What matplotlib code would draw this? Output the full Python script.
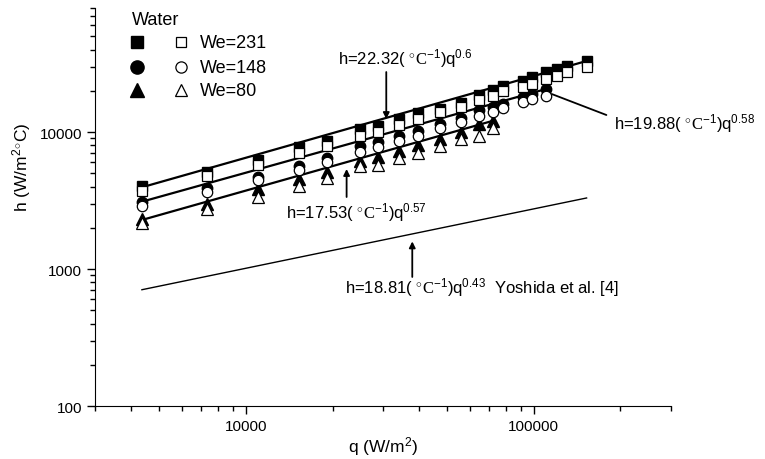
import matplotlib
matplotlib.use('agg')
import matplotlib.pyplot as plt
from matplotlib.ticker import FuncFormatter, NullFormatter

plt.rcParams['font.family'] = ['Liberation Sans', 'DejaVu Sans']
plt.rcParams['mathtext.fontset'] = 'custom'
plt.rcParams['mathtext.rm'] = 'Liberation Serif'
plt.rcParams['mathtext.sf'] = 'Liberation Sans'
plt.rcParams['mathtext.it'] = 'Liberation Sans:italic'

# heat flux (W/m2)
q = [4350, 7300, 11000, 15300, 19200, 24900, 28800, 34100, 39700, 47200,
     55700, 64700, 72300, 78300, 91500, 98300, 110300, 120100, 130800, 152700]

# We=231 (squares)
h231_f = [4055, 5080, 6245, 7730, 8640, 10520, 11120, 12440, 13700, 14720,
          16200, 18620, 20370, 21780, 23690, 25060, 27280, 28840, 30480, 33110]
h231_o = [3690, 4750, 5740, 7030, 7940, 9300, 10050, 11250, 12440, 13930,
          15300, 17220, 18400, 20020, 21180, 22390, 24380, 25760, 27280, 29650]
# We=148 (circles)
h148_f = [3100, 3880, 4720, 5680, 6430, 7870, 8410, 9400, 10220, 11440,
          12590, 14550, 15140, 16000, 17910, 18920, 20590]
h148_o = [2900, 3630, 4470, 5310, 6070, 7110, 7730, 8640, 9400, 10640,
          11770, 13150, 14070, 14890, 16480, 17400, 18220]
# We=80 (triangles)
h80_f = [2320, 2980, 3840, 4540, 5130, 6170, 6530, 7300, 8040, 8890,
         9950, 11440, 12090]
h80_o = [2170, 2740, 3340, 4020, 4590, 5620, 5740, 6430, 7030, 7940,
         8890, 9400, 10640]

# correlation lines (end points)
fit231_q, fit231_h = [4350, 152700], [3950, 33000]
fit148_q, fit148_h = [4350, 110300], [3100, 20590]
fit80_q, fit80_h = [4350, 72300], [2280, 12090]
yoshida_q, yoshida_h = [4350, 152700], [706, 3300]

fig = plt.figure(figsize=(7.65, 4.6), dpi=100)
ax = fig.add_axes([0.1248, 0.1152, 0.7523, 0.8646])

for fq, fh in [(fit231_q, fit231_h), (fit148_q, fit148_h), (fit80_q, fit80_h)]:
    ax.plot(fq, fh, color='black', lw=1.6, zorder=2)
ax.plot(yoshida_q, yoshida_h, color='black', lw=1.0, zorder=2)

n148 = len(h148_f)
n80 = len(h80_f)
ax.plot(q, h231_f, 's', ms=6.5, color='black', zorder=3)
ax.plot(q[:n148], h148_f, 'o', ms=7.5, color='black', zorder=3)
ax.plot(q[:n80], h80_f, '^', ms=8, color='black', zorder=3)
ax.plot(q, h231_o, 's', ms=6.5, mfc='white', mec='black', mew=0.9, zorder=4)
ax.plot(q[:n148], h148_o, 'o', ms=7.5, mfc='white', mec='black', mew=0.9, zorder=4)
ax.plot(q[:n80], h80_o, '^', ms=8, mfc='white', mec='black', mew=0.9, zorder=4)

ax.set_xscale('log')
ax.set_yscale('log')
ax.set_xlim(3000, 300000)
ax.set_ylim(100, 80000)

fmt = FuncFormatter(lambda v, p: f'{v:.0f}')
ax.xaxis.set_major_formatter(fmt)
ax.yaxis.set_major_formatter(fmt)
ax.xaxis.set_minor_formatter(NullFormatter())
ax.yaxis.set_minor_formatter(NullFormatter())
ax.tick_params(which='major', direction='out', length=6, width=1, labelsize=11)
ax.tick_params(which='minor', direction='out', length=3.5, width=1)
for s in ['top', 'right']:
    ax.spines[s].set_visible(False)

ax.set_xlabel(r'q (W/m$^{\mathsf{2}}$)', fontsize=12.5, labelpad=1)
ax.set_ylabel(r'h (W/m$^{\mathsf{2}}$$^{\circ}$C)', fontsize=12.5)
ax.yaxis.set_label_coords(-0.108, 0.603)

# legend
ax.text(0.0634, 0.972, 'Water', transform=ax.transAxes, fontsize=13, va='center')
rows = [('s', 8.5, 'We=231', 0.9146), ('o', 9.5, 'We=148', 0.8518),
        ('^', 10.5, 'We=80', 0.794)]
for m, ms, lab, yy in rows:
    ax.plot([0.0721], [yy], m, ms=ms, color='black', transform=ax.transAxes, clip_on=False)
    ax.plot([0.1486], [yy], m, ms=ms * 0.85, mfc='white', mec='black', mew=0.9,
            transform=ax.transAxes, clip_on=False)
    ax.text(0.181, yy, lab, transform=ax.transAxes, fontsize=13, va='center')

arrow = dict(arrowstyle='-|>', mutation_scale=9, lw=1.3, color='black',
             shrinkA=0, shrinkB=0)
ann_fs = 12

ax.text(20840, 35240, r'h=22.32( $\mathrm{{}^{\circ}C}^{\mathsf{-1}}$)q$^{\mathsf{0.6}}$',
        fontsize=ann_fs, va='center')
ax.annotate('', xy=(30740, 12440), xytext=(30740, 27400), arrowprops=arrow)

ax.text(190900, 11630, r'h=19.88( $\mathrm{{}^{\circ}C}^{\mathsf{-1}}$)q$^{\mathsf{0.58}}$',
        fontsize=ann_fs, va='center')
ax.annotate('', xy=(115600, 18930), xytext=(178900, 13310),
            arrowprops=dict(arrowstyle='-', lw=1.3, color='black', shrinkA=0, shrinkB=0))

ax.text(13780, 2607, r'h=17.53( $\mathrm{{}^{\circ}C}^{\mathsf{-1}}$)q$^{\mathsf{0.57}}$',
        fontsize=ann_fs, va='center')
ax.annotate('', xy=(22380, 5370), xytext=(22380, 3355), arrowprops=arrow)

ax.text(22080, 740, r'h=18.81( $\mathrm{{}^{\circ}C}^{\mathsf{-1}}$)q$^{\mathsf{0.43}}$  Yoshida et al. [4]',
        fontsize=ann_fs, va='center')
ax.annotate('', xy=(37850, 1590), xytext=(37850, 875), arrowprops=arrow)

fig.savefig('out.png', dpi=100)
